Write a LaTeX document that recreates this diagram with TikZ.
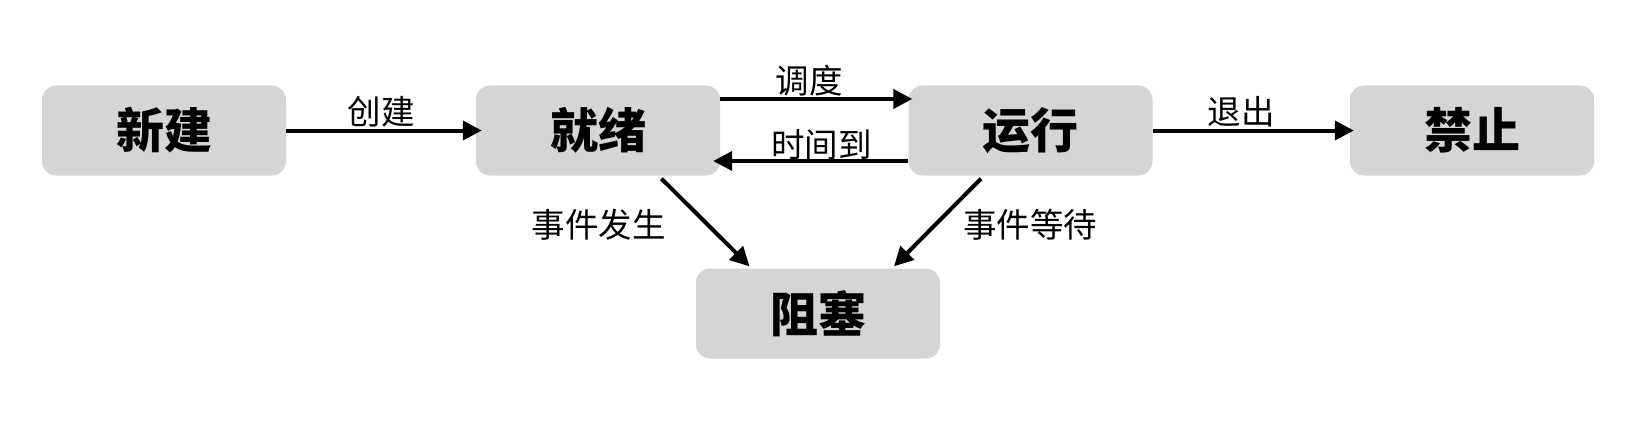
\documentclass[tikz,border=0pt]{standalone}
\usepackage{fontspec}
\newfontfamily\cjk{Noto Sans CJK SC}
\usetikzlibrary{arrows.meta, positioning}
\definecolor{boxgray}{RGB}{213,212,214}

\begin{document}
\begin{tikzpicture}[
	x=1pt,
	y=-1pt,
	statebox/.style={
		rectangle,
		rounded corners=14pt,
		fill=boxgray,
		minimum width=244pt,
		minimum height=90pt,
		font=\cjk\bfseries\fontsize{48}{54}\selectfont
	},
	flow/.style={
		-{Triangle[length=19pt,width=19pt]},
		line width=4pt
	},
	edgetext/.style={
		font=\cjk\fontsize{33.5}{38}\selectfont,
		inner sep=0pt
	}
]
	\useasboundingbox (0,0) rectangle (1650,428);

	% states
	\node[statebox] (xinjian) at (164,130.5) {新建};
	\node[statebox] (jiuxu) at (598,130.5) {就绪};
	\node[statebox] (yunxing) at (1030.5,130.5) {运行};
	\node[statebox] (jinzhi) at (1472,130.5) {禁止};
	\node[statebox] (zusai) at (818,313.5) {阻塞};

	% transitions
	\draw[
		flow,
		shorten >=-6pt
	] (xinjian) -- (jiuxu)
		node[edgetext, midway, yshift=19pt] (chuangjian) {创建};
	\draw[
		flow,
		shorten >=-4pt
	] ([yshift=31.5pt]jiuxu.east) -- ([yshift=31.5pt]yunxing.west)
		node[edgetext, midway, xshift=-5pt, yshift=18pt] (diaodu) {调度};
	\draw[
		flow,
		shorten >=-7pt
	] ([yshift=-30.5pt]yunxing.west) -- ([yshift=-30.5pt]jiuxu.east)
		node[edgetext, midway, xshift=7pt, yshift=16pt] (shijiandao) {时间到};
	\draw[
		flow,
		shorten >=-4pt
	] (yunxing) -- (jinzhi)
		node[edgetext, midway, xshift=-10pt, yshift=19pt] (tuichu) {退出};
	\draw[
		flow
	] ([xshift=63.5pt, yshift=-3pt]jiuxu.south) -- ([xshift=-68.5pt, yshift=2pt]zusai.north)
		node[edgetext, midway, xshift=-106.75pt, yshift=-2.5pt] (fasheng) {事件发生};
	\draw[
		flow
	] ([xshift=-49.5pt, yshift=-3pt]yunxing.south) -- ([xshift=76pt, yshift=2pt]zusai.north)
		node[edgetext, midway, xshift=92.5pt, yshift=-2.5pt] (dengdai) {事件等待};

\end{tikzpicture}
\end{document}
